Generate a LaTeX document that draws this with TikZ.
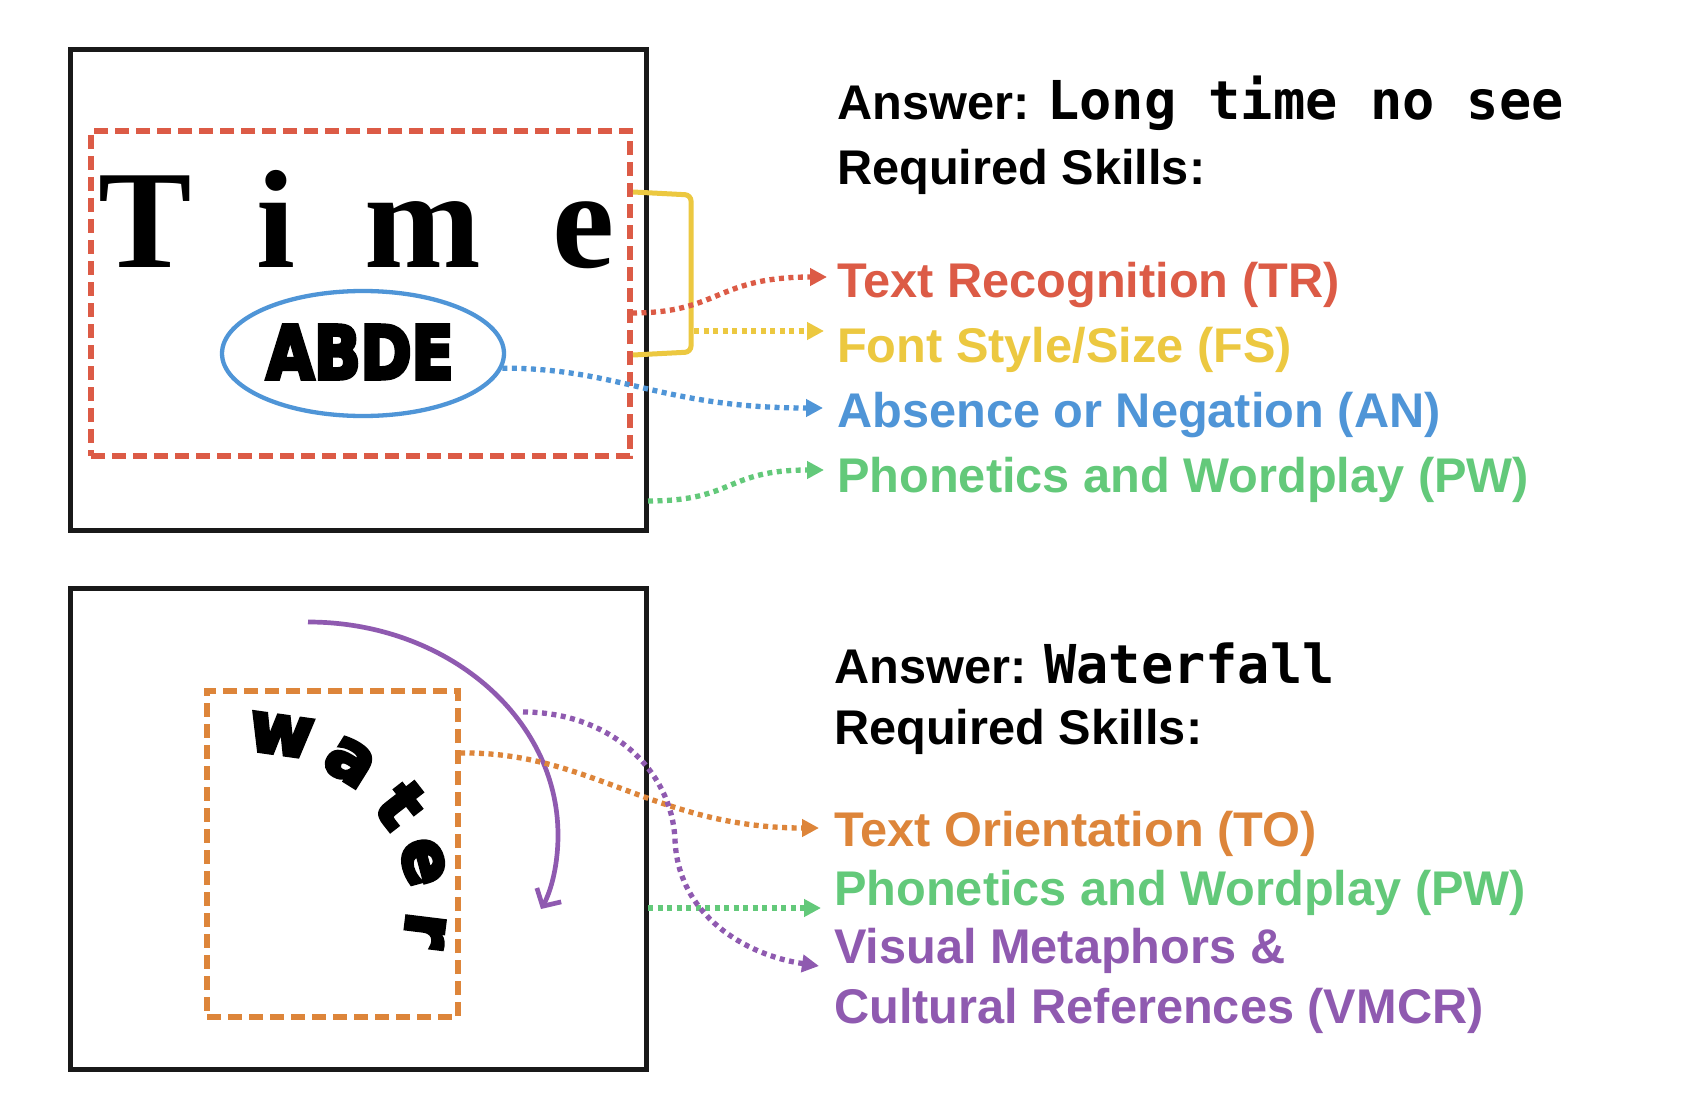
\documentclass[tikz,border=0pt]{standalone}
\usepackage{fontspec}
\setmainfont{Liberation Sans}
\newfontfamily\ansmono{DejaVu Sans Mono}
\newfontfamily\timefont{Liberation Serif}
\newfontfamily\heavyfont[FakeBold=6]{DejaVu Sans Bold}
\usetikzlibrary{arrows.meta,shapes.geometric}
\definecolor{cred}{RGB}{220,91,70}
\definecolor{cyellow}{RGB}{236,200,64}
\definecolor{cblue}{RGB}{79,149,215}
\definecolor{cgreen}{RGB}{99,201,122}
\definecolor{corange}{RGB}{221,133,58}
\definecolor{cpurple}{RGB}{143,90,176}
\tikzset{
  frame/.style={draw=black!90, line width=5pt, inner sep=0pt},
  dashbox/.style={line width=5.3pt, dash pattern=on 14pt off 7pt, inner sep=0pt},
  dotarrow/.style={line width=5.3pt, dash pattern=on 5pt off 4.5pt, -{Triangle[length=17pt,width=17pt]}},
  lab/.style={anchor=base west, inner sep=0pt, font=\fontsize{48.7}{58}\selectfont\bfseries},
  timeletter/.style={anchor=base, inner sep=0pt, font=\timefont\bfseries\fontsize{140}{140}\selectfont},
  waterletter/.style={inner sep=0pt, font=\heavyfont\fontsize{69}{69}\selectfont},
}
\begin{document}
\begin{tikzpicture}[x=1pt,y=-1pt]
\useasboundingbox (0,0) rectangle (1684,1110);
\fill[white] (0,0) rectangle (1684,1110);

% ---------- top panel ----------
\node[frame, minimum width=576pt, minimum height=480pt] (topframe) at (358,290) {};
\node[dashbox, draw=cred, minimum width=539pt, minimum height=325pt] (redbox) at (360.5,293.5) {};
\node[timeletter] (tT) at (145,267) {T};
\node[timeletter] (ti) at (275.5,267) {i};
\node[timeletter] (tm) at (423,267) {m};
\node[timeletter] (te) at (583.5,267) {e};
\node[draw=cblue, line width=4.3pt, ellipse, minimum width=282pt, minimum height=125pt, inner sep=0pt] (ell) at (363,353.5) {};
\node[inner sep=0pt, font=\heavyfont\fontsize{73}{73}\selectfont] (abde) at (360,352) {\scalebox{0.84}[1]{ABDE}};
\draw[cyellow, line width=5pt, rounded corners=6pt] (633,192) -- (691,195) -- (691,352) -- (633,355);

\node[lab] (ans1) at (837,120) {Answer: {\ansmono\bfseries\fontsize{53.6}{60}\selectfont Long time no see}};
\node[lab] (req1) at (837,185) {Required Skills:};
\node[lab, text=cred] (tr) at (837,297) {Text Recognition (TR)};
\node[lab, text=cyellow] (fs) at (837,362) {Font Style/Size (FS)};
\node[lab, text=cblue] (an) at (837,427) {Absence or Negation (AN)};
\node[lab, text=cgreen] (pw1) at (837,492) {Phonetics and Wordplay (PW)};

\coordinate (trS) at (632,313);
\coordinate (trE) at (827,277);
\coordinate (fsS) at (694,331);
\coordinate (fsE) at (824,331);
\coordinate (anS) at (ell.-6);
\coordinate (anE) at (823,408);
\coordinate (pwS) at (648,501);
\coordinate (pwE) at (824,470);
\draw[dotarrow, cred] (trS) .. controls (720,313) and (715,277) .. (trE);
\draw[dotarrow, cyellow] (fsS) -- (fsE);
\draw[dotarrow, cblue] (anS) .. controls (620,368) and (660,408) .. (anE);
\draw[dotarrow, cgreen] (pwS) .. controls (735,501) and (725,470) .. (pwE);

% ---------- bottom panel ----------
\node[frame, minimum width=576pt, minimum height=481pt] (botframe) at (358,828.5) {};
\node[dashbox, draw=corange, minimum width=251pt, minimum height=326pt] (orangebox) at (332.5,854) {};
\node[waterletter, rotate=-8] (ww) at (281,735) {w};
\node[waterletter, rotate=-32] (wa) at (350,762) {a};
\node[waterletter, rotate=-52] (wt) at (401,805) {t};
\node[waterletter, rotate=-75] (we) at (423,862) {e};
\node[waterletter, rotate=-97] (wr) at (425,930) {r};

\coordinate (arcS) at (308,622);
\coordinate (arcM) at (558,835);
\coordinate (arcE) at (541,909);
\draw[cpurple, line width=4.7pt, -{Straight Barb[length=13pt,width=28pt]}] (arcS) .. controls (446,622) and (558,717) .. (arcM) .. controls (558,870) and (549,895) .. (arcE);

\node[lab] (ans2) at (834,683) {Answer: {\ansmono\bfseries\fontsize{53.6}{60}\selectfont Waterfall}};
\node[lab] (req2) at (834,744) {Required Skills:};
\node[lab, text=corange] (to) at (834,846) {Text Orientation (TO)};
\node[lab, text=cgreen] (pw2) at (834,905) {Phonetics and Wordplay (PW)};
\node[lab, text=cpurple] (vm) at (834,963) {Visual Metaphors \&};
\node[lab, text=cpurple] (cr) at (834,1023) {Cultural References (VMCR)};

\coordinate (toS) at (460,753);
\coordinate (toE) at (819,828);
\coordinate (pw2S) at (648,908);
\coordinate (pw2E) at (821,908);
\coordinate (vmS) at (523,712);
\coordinate (vmM) at (675,840);
\coordinate (vmE) at (819,966);
\draw[dotarrow, corange] (toS) .. controls (590,751) and (655,828) .. (toE);
\draw[dotarrow, cgreen] (pw2S) -- (pw2E);
\draw[dotarrow, cpurple] (vmS) .. controls (610,712) and (672,770) .. (vmM) .. controls (678,915) and (745,955) .. (vmE);
\end{tikzpicture}
\end{document}
